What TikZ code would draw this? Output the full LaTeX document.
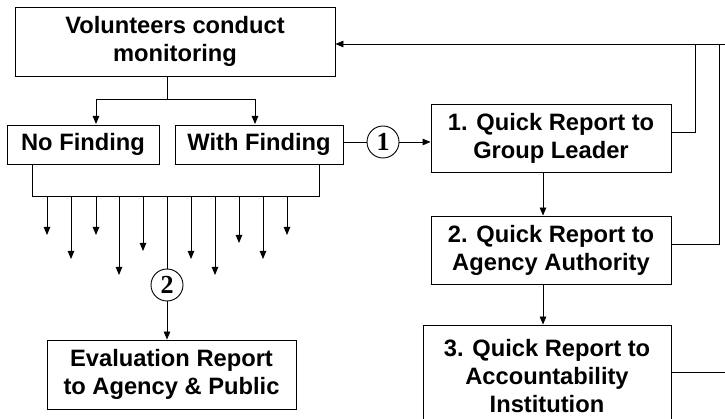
\documentclass[tikz,border=0pt]{standalone}
\usepackage{fontspec}
\setmainfont{Liberation Sans}
\newfontfamily\circfont{Liberation Serif}
\usetikzlibrary{arrows.meta}
\begin{document}
\begin{tikzpicture}[x=1pt,y=-1pt,
  box/.style={draw,line width=0.9pt,align=center,inner sep=0pt,
    font=\bfseries\fontsize{23.7}{28}\selectfont},
  num/.style={draw,circle,line width=0.9pt,minimum size=32pt,inner sep=0pt,
    font=\circfont\bfseries\fontsize{26}{26}\selectfont},
  ln/.style={line width=0.9pt},
  arr/.style={line width=0.9pt,-{Triangle[length=8pt,width=6.5pt]}}]
\useasboundingbox (0,0) rectangle (725,419);
% boxes
\node[box,minimum width=320pt,minimum height=69pt] (top) at (175,41.5) {Volunteers conduct\\monitoring};
\node[box,minimum width=152pt,minimum height=39pt] (nf) at (83,144.5) {No Finding};
\node[box,minimum width=168pt,minimum height=39pt] (wf) at (259,144.5) {With Finding};
\node[box,minimum width=240pt,minimum height=68pt] (b1) at (551,138) {1. Quick Report to\\Group Leader};
\node[box,minimum width=240pt,minimum height=68pt] (b2) at (551,250) {2. Quick Report to\\Agency Authority};
\node[box,minimum width=248pt,minimum height=102pt] (b3) at (547,376) {3. Quick Report to\\Accountability\\Institution};
\node[box,minimum width=249pt,minimum height=69pt] (ev) at (171.5,374.5) {Evaluation Report\\to Agency \& Public};
\node[num] (c1) at (383,142) {1};
\node[num] (c2) at (167,285) {2};
% top split
\coordinate (split) at (167,99);
\draw[ln] (top.south -| split) -- (split);
\draw[arr] (split) -- (96,99) -- (96,124);
\draw[arr] (split) -- (255,99) -- (255,124);
% bracket
\coordinate (bl) at (32,196);
\coordinate (br) at (319,196);
\draw[ln] (nf.south -| bl) -- (bl) -- (br) -- (wf.south -| br);
\foreach \x/\y in {47/235,71/259,96/235,119/275,143/251,191/259,215/275,239/243,263/259,287/235}{
  \draw[arr] (\x,196) -- (\x,\y);
}
\draw[ln] (c2.north |- bl) -- (c2.north);
\draw[arr] (c2.south) -- (c2.south |- ev.north);
% finding to quick report
\draw[ln] (wf.east |- c1) -- (c1.west);
\draw[arr] (c1.east) -- (c1 -| b1.west);
\draw[arr] (b1.south -| 543,0) -- (b2.north -| 543,0);
\draw[arr] (b2.south -| 543,0) -- (b3.north -| 543,0);
% feedback lines
\coordinate (tr) at (725,44);
\coordinate (r3) at (725,372);
\draw[arr] (tr) -- (top.east |- tr);
\draw[ln] (b1.east |- 0,132) -- (695,132) -- (695,44);
\draw[ln] (b2.east |- 0,244) -- (719,244) -- (719,44);
\draw[ln] (b3.east |- r3) -- (r3);
\end{tikzpicture}
\end{document}
